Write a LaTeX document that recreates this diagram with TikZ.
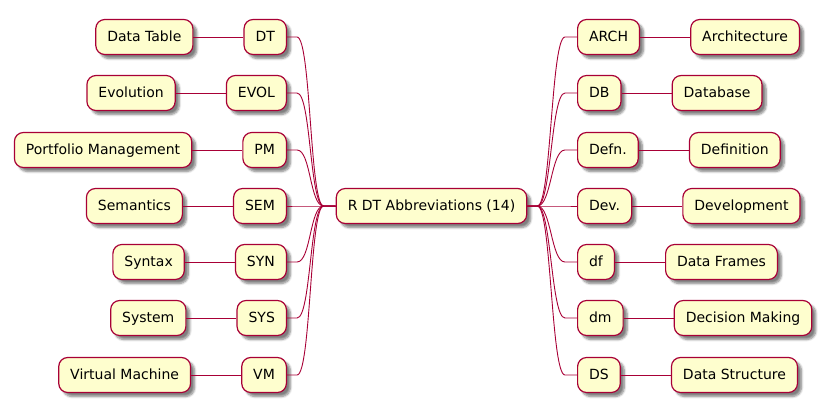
\documentclass[tikz,border=0pt]{standalone}
\usepackage{fontspec}
\setmainfont{DejaVu Sans}
\usetikzlibrary{positioning,shadows.blur}
\definecolor{mapfill}{HTML}{FEFECE}
\definecolor{mapline}{HTML}{A80036}

\begin{document}
\begin{tikzpicture}[x=1pt,y=-1pt,
  idea/.style={draw=mapline,fill=mapfill,line width=1.2pt,rounded corners=9pt,
    minimum height=35pt,inner xsep=11.5pt,text height=13pt,text depth=3.3pt,
    font=\fontsize{14}{16}\selectfont,
    blur shadow={shadow xshift=4pt,shadow yshift=-4pt,shadow blur steps=6,shadow opacity=50}},
  link/.style={draw=mapline,line width=0.9pt}
]
\useasboundingbox (0,0) rectangle (827,415);

% The root
\node[idea] (root) at (431.5,206) {R DT Abbreviations (14)};
\coordinate[left=12pt of root] (lj);
\coordinate[right=10pt of root] (rj);

% Left branches
\node[idea,anchor=east] (dt) at (287,37) {DT};
\node[idea,anchor=east] (evol) at (287,93) {EVOL};
\node[idea,anchor=east] (pm) at (287,150) {PM};
\node[idea,anchor=east] (sem) at (287,206) {SEM};
\node[idea,anchor=east] (syn) at (287,262) {SYN};
\node[idea,anchor=east] (sys) at (287,318) {SYS};
\node[idea,anchor=east] (vm) at (287,375) {VM};

\node[idea,left=50pt of dt] (datatable) {Data Table};
\node[idea,left=50pt of evol] (evolution) {Evolution};
\node[idea,left=50pt of pm] (portfolio) {Portfolio Management};
\node[idea,left=50pt of sem] (semantics) {Semantics};
\node[idea,left=50pt of syn] (syntax) {Syntax};
\node[idea,left=50pt of sys] (system) {System};
\node[idea,left=50pt of vm] (virtual) {Virtual Machine};

% Right branches
\node[idea,anchor=west] (arch) at (577,37) {ARCH};
\node[idea,anchor=west] (db) at (577,93) {DB};
\node[idea,anchor=west] (defn) at (577,150) {Defn.};
\node[idea,anchor=west] (dev) at (577,206) {Dev.};
\node[idea,anchor=west] (df) at (577,262) {df};
\node[idea,anchor=west] (dm) at (577,318) {dm};
\node[idea,anchor=west] (ds) at (577,375) {DS};

\node[idea,right=50pt of arch] (architecture) {Architecture};
\node[idea,right=50pt of db] (database) {Database};
\node[idea,right=50pt of defn] (definition) {Definition};
\node[idea,right=50pt of dev] (development) {Development};
\node[idea,right=50pt of df] (dataframes) {Data Frames};
\node[idea,right=50pt of dm] (decision) {Decision Making};
\node[idea,right=50pt of ds] (datastructure) {Data Structure};

% The links to the root
\foreach \n in {dt,evol,pm,sem,syn,sys,vm}
  \draw[link] (\n.east) -- ++(10,0) .. controls +(14,0) and +(-14,0) .. (lj) -- (root.west);
\foreach \n in {arch,db,defn,dev,df,dm,ds}
  \draw[link] (\n.west) -- ++(-12,0) .. controls +(-14,0) and +(14,0) .. (rj) -- (root.east);

% The links to the leaves
\draw[link] (datatable) -- (dt);
\draw[link] (evolution) -- (evol);
\draw[link] (portfolio) -- (pm);
\draw[link] (semantics) -- (sem);
\draw[link] (syntax) -- (syn);
\draw[link] (system) -- (sys);
\draw[link] (virtual) -- (vm);
\draw[link] (arch) -- (architecture);
\draw[link] (db) -- (database);
\draw[link] (defn) -- (definition);
\draw[link] (dev) -- (development);
\draw[link] (df) -- (dataframes);
\draw[link] (dm) -- (decision);
\draw[link] (ds) -- (datastructure);
\end{tikzpicture}
\end{document}
